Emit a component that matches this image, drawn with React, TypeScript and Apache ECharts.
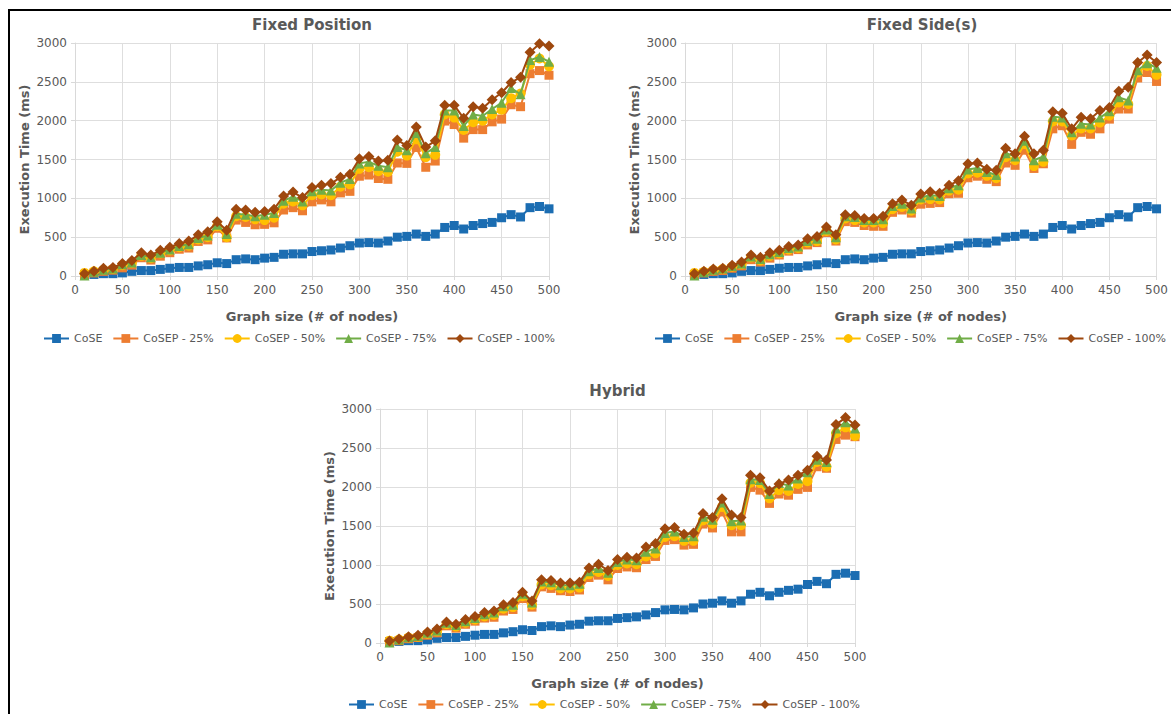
import React, { useEffect, useRef } from 'react';
import * as echarts from 'echarts';

const sizes = [10, 20, 30, 40, 50, 60, 70, 80, 90, 100, 110, 120, 130, 140, 150, 160, 170, 180, 190, 200, 210, 220, 230, 240, 250, 260, 270, 280, 290, 300, 310, 320, 330, 340, 350, 360, 370, 380, 390, 400, 410, 420, 430, 440, 450, 460, 470, 480, 490, 500];

const seriesNames = ['CoSE', 'CoSEP - 25%', 'CoSEP - 50%', 'CoSEP - 75%', 'CoSEP - 100%'];

const cose = [15, 20, 30, 30, 40, 60, 70, 70, 85, 100, 110, 110, 130, 145, 170, 160, 210, 220, 210, 230, 240, 280, 285, 285, 315, 325, 335, 360, 390, 425, 430, 425, 450, 500, 510, 540, 510, 540, 625, 650, 605, 650, 675, 690, 750, 790, 760, 880, 895, 865];

// Fixed Position
const fp25 = [20, 40, 60, 75, 105, 140, 235, 205, 255, 300, 345, 360, 445, 465, 615, 490, 720, 690, 660, 665, 685, 850, 880, 840, 955, 980, 955, 1070, 1090, 1285, 1300, 1255, 1245, 1455, 1450, 1655, 1400, 1480, 1995, 1950, 1775, 1885, 1885, 1985, 2020, 2205, 2180, 2605, 2645, 2585];
const fp50 = [40, 60, 80, 90, 140, 170, 260, 230, 290, 330, 370, 390, 470, 500, 640, 500, 770, 760, 730, 720, 750, 930, 960, 910, 1040, 1050, 1040, 1150, 1180, 1380, 1400, 1350, 1340, 1600, 1550, 1760, 1530, 1560, 2080, 2040, 1880, 1980, 2000, 2080, 2140, 2290, 2350, 2720, 2800, 2700];
const fp75 = [5, 55, 80, 95, 150, 175, 270, 240, 300, 340, 385, 410, 490, 520, 660, 540, 800, 790, 770, 790, 810, 970, 1020, 960, 1090, 1110, 1100, 1200, 1250, 1450, 1470, 1420, 1400, 1660, 1620, 1840, 1580, 1660, 2130, 2130, 1930, 2080, 2060, 2150, 2230, 2420, 2340, 2780, 2820, 2760];
const fp100 = [30, 60, 100, 110, 160, 200, 300, 270, 330, 370, 420, 450, 530, 570, 700, 590, 860, 850, 820, 830, 860, 1030, 1080, 1010, 1140, 1170, 1190, 1270, 1310, 1510, 1540, 1480, 1490, 1750, 1680, 1920, 1660, 1740, 2200, 2200, 2030, 2180, 2160, 2270, 2360, 2490, 2560, 2880, 2990, 2960];

// Fixed Side(s)
const fs25 = [20, 40, 60, 70, 100, 130, 210, 180, 230, 270, 320, 340, 400, 430, 560, 450, 700, 690, 650, 640, 640, 820, 850, 810, 925, 935, 945, 1060, 1065, 1265, 1285, 1245, 1215, 1455, 1425, 1620, 1385, 1445, 1895, 1935, 1695, 1850, 1825, 1895, 2020, 2150, 2150, 2550, 2620, 2505];
const fs50 = [40, 55, 75, 90, 120, 150, 240, 200, 260, 290, 340, 360, 430, 450, 580, 470, 740, 720, 690, 690, 680, 860, 890, 840, 985, 990, 985, 1100, 1110, 1320, 1330, 1290, 1260, 1530, 1490, 1700, 1415, 1470, 1990, 1990, 1810, 1900, 1900, 1975, 2065, 2235, 2215, 2620, 2705, 2590];
const fs75 = [5, 50, 80, 95, 130, 160, 250, 220, 280, 310, 360, 380, 450, 480, 600, 500, 770, 760, 720, 720, 730, 900, 930, 870, 1010, 1040, 1030, 1130, 1170, 1370, 1390, 1340, 1300, 1580, 1540, 1740, 1490, 1540, 2050, 2040, 1850, 1960, 1950, 2040, 2120, 2300, 2260, 2650, 2740, 2680];
const fs100 = [30, 60, 90, 100, 140, 180, 270, 240, 300, 330, 380, 400, 480, 510, 630, 530, 790, 780, 740, 740, 770, 930, 980, 910, 1055, 1085, 1065, 1170, 1225, 1445, 1455, 1375, 1360, 1645, 1575, 1800, 1575, 1620, 2115, 2095, 1895, 2045, 2025, 2130, 2170, 2380, 2430, 2750, 2845, 2750];

// Hybrid
const hy25 = [15, 30, 55, 70, 100, 130, 220, 190, 240, 280, 320, 330, 410, 430, 570, 460, 720, 700, 670, 660, 680, 840, 870, 810, 955, 975, 965, 1070, 1110, 1315, 1325, 1255, 1265, 1525, 1475, 1680, 1425, 1425, 1995, 1960, 1790, 1910, 1895, 1970, 1995, 2260, 2240, 2610, 2665, 2645];
const hy50 = [30, 45, 70, 80, 120, 150, 240, 210, 260, 300, 340, 360, 440, 460, 600, 490, 750, 740, 700, 700, 710, 880, 910, 860, 1000, 1020, 1010, 1110, 1150, 1360, 1370, 1310, 1310, 1570, 1530, 1745, 1510, 1510, 2055, 2050, 1855, 1960, 1950, 2040, 2075, 2320, 2260, 2690, 2765, 2655];
const hy75 = [5, 45, 75, 90, 130, 160, 260, 230, 280, 320, 370, 390, 470, 490, 630, 520, 790, 780, 740, 740, 760, 920, 960, 900, 1040, 1070, 1060, 1170, 1210, 1410, 1430, 1360, 1370, 1620, 1580, 1800, 1560, 1570, 2100, 2090, 1910, 2050, 2020, 2110, 2190, 2350, 2320, 2750, 2830, 2750];
const hy100 = [25, 50, 80, 100, 140, 180, 270, 240, 300, 340, 390, 410, 490, 520, 650, 540, 810, 800, 770, 770, 780, 960, 1010, 930, 1070, 1100, 1090, 1230, 1275, 1465, 1480, 1395, 1410, 1660, 1610, 1850, 1640, 1610, 2150, 2120, 1950, 2040, 2090, 2150, 2215, 2395, 2345, 2800, 2890, 2795];

const xTicks = [0, 50, 100, 150, 200, 250, 300, 350, 400, 450, 500];
const yTicks = [0, 500, 1000, 1500, 2000, 2500, 3000];

const COLORS = ['#1b6db2', '#ed7d31', '#ffc000', '#70ad47', '#9e480e'];
const SYMBOLS = ['rect', 'rect', 'circle', 'triangle', 'diamond'];
const SYMBOL_SIZES = [9, 9, 10, 10, 11];

const TEXT = '#595959';
const FONT = 'DejaVu Sans';

const panels = [
  { title: 'Fixed Position', grid: { left: 75, top: 43, width: 474, height: 233 }, legendLeft: 38, legendTop: 331, data: [cose, fp25, fp50, fp75, fp100] },
  { title: 'Fixed Side(s)', grid: { left: 685, top: 43, width: 474, height: 233 }, legendLeft: 649, legendTop: 331, data: [cose, fs25, fs50, fs75, fs100] },
  { title: 'Hybrid', grid: { left: 380, top: 409, width: 475, height: 234 }, legendLeft: 343, legendTop: 697, data: [cose, hy25, hy50, hy75, hy100] },
];

export default function App() {
  const ref = useRef<HTMLDivElement>(null);
  useEffect(() => {
    document.body.style.margin = '0';
    if (!ref.current) return;
    const chart = echarts.init(ref.current, null, { renderer: 'svg' });
    const grid: any[] = [];
    const xAxis: any[] = [];
    const yAxis: any[] = [];
    const legend: any[] = [];
    const series: any[] = [];
    const graphic: any[] = [
      { type: 'line', shape: { x1: 8, y1: 10, x2: 1171, y2: 10 }, style: { stroke: '#000', lineWidth: 2 } },
      { type: 'line', shape: { x1: 9, y1: 10, x2: 9, y2: 714 }, style: { stroke: '#000', lineWidth: 2 } },
    ];
    panels.forEach((p, i) => {
      grid.push({ ...p.grid });
      graphic.push({
        type: 'text',
        x: p.grid.left + p.grid.width / 2,
        y: p.grid.top - 18,
        style: { text: p.title, fill: TEXT, font: `bold 15px "${FONT}"`, textAlign: 'center', textVerticalAlign: 'middle' },
      });
      xAxis.push({
        type: 'value', gridIndex: i, min: xTicks[0], max: xTicks[xTicks.length - 1], interval: 50,
        name: 'Graph size (# of nodes)', nameLocation: 'middle', nameGap: 34,
        nameTextStyle: { color: TEXT, fontFamily: FONT, fontWeight: 'bold', fontSize: 13 },
        axisLine: { show: true, lineStyle: { color: '#d9d9d9' } },
        axisTick: { show: true, length: 4, lineStyle: { color: '#d9d9d9' } },
        axisLabel: { color: TEXT, fontFamily: FONT, fontSize: 12, margin: 8, formatter: (v: number) => String(v) },
        splitLine: { show: true, lineStyle: { color: '#dedede' } },
      });
      yAxis.push({
        type: 'value', gridIndex: i, min: yTicks[0], max: yTicks[yTicks.length - 1], interval: 500,
        name: 'Execution Time (ms)', nameLocation: 'middle', nameGap: 44,
        nameTextStyle: { color: TEXT, fontFamily: FONT, fontWeight: 'bold', fontSize: 13 },
        axisLine: { show: true, lineStyle: { color: '#d9d9d9' } },
        axisTick: { show: true, length: 4, lineStyle: { color: '#d9d9d9' } },
        axisLabel: { color: TEXT, fontFamily: FONT, fontSize: 12, margin: 8, formatter: (v: number) => String(v) },
        splitLine: { show: true, lineStyle: { color: '#dedede' } },
      });
      legend.push({
        left: p.legendLeft, top: p.legendTop - 3, width: 700, itemWidth: 25, itemHeight: 11, itemGap: 10,
        textStyle: { color: TEXT, fontFamily: FONT, fontSize: 11 },
        data: seriesNames.map((n) => ({ name: n })),
        selectedMode: false,
      });
      p.data.forEach((vals, k) => {
        series.push({
          type: 'line', name: seriesNames[k], xAxisIndex: i, yAxisIndex: i,
          data: sizes.map((s, j) => [s, vals[j]]),
          symbol: SYMBOLS[k], symbolSize: SYMBOL_SIZES[k], showSymbol: true,
          color: COLORS[k],
          lineStyle: { width: 2, color: COLORS[k] },
          itemStyle: { color: COLORS[k] },
          z: 2 + k,
        });
      });
    });
    chart.setOption({ animation: false, backgroundColor: '#fff', grid, xAxis, yAxis, legend, series, graphic });
    return () => chart.dispose();
  }, []);
  return <div ref={ref} style={{ width: 1171, height: 714 }} />;
}
